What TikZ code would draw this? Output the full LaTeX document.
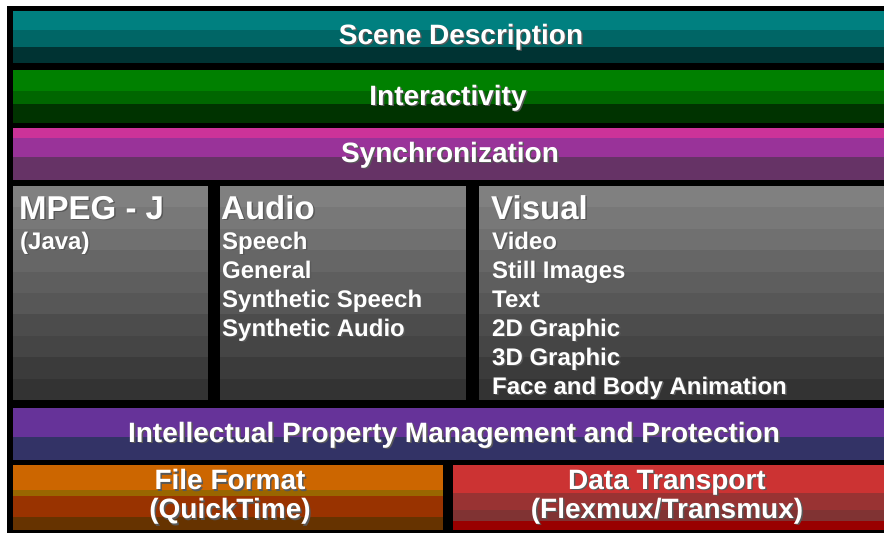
\documentclass[tikz,border=0pt]{standalone}
\usepackage{fontspec}
\setmainfont{Liberation Sans}

\definecolor{tealA}{HTML}{008080}
\definecolor{tealB}{HTML}{006666}
\definecolor{tealC}{HTML}{003333}
\definecolor{greenA}{HTML}{008000}
\definecolor{greenB}{HTML}{006600}
\definecolor{greenC}{HTML}{003300}
\definecolor{pinkA}{HTML}{CC3399}
\definecolor{pinkB}{HTML}{993399}
\definecolor{pinkC}{HTML}{663366}
\definecolor{violetA}{HTML}{663399}
\definecolor{violetB}{HTML}{333366}
\definecolor{orangeA}{HTML}{CC6600}
\definecolor{orangeB}{HTML}{996600}
\definecolor{orangeC}{HTML}{993300}
\definecolor{orangeD}{HTML}{663300}
\definecolor{redA}{HTML}{CC3333}
\definecolor{redB}{HTML}{993333}
\definecolor{redC}{HTML}{803333}
\definecolor{redD}{HTML}{990000}

% white text with a dark drop shadow
\newcommand{\shd}[1]{\leavevmode\rlap{\kern1.5pt\raisebox{-1.5pt}{\textcolor{black!65}{#1}}}#1}

\tikzset{
  bandtext/.style={text=white, inner sep=0pt, align=center,
    font=\fontsize{28}{29}\selectfont\bfseries},
  headtext/.style={text=white, inner sep=0pt, anchor=base west,
    font=\fontsize{33}{34}\selectfont\bfseries},
  itemtext/.style={text=white, inner sep=0pt, anchor=base west,
    font=\fontsize{24}{25}\selectfont\bfseries},
}

\begin{document}
\begin{tikzpicture}[x=1pt, y=-1pt]
    \useasboundingbox (0,0) rectangle (884,533);
    \fill[white] (0,0) rectangle (884,533);
    \fill[black] (7,6) rectangle (884,533);

    % scene description
    \fill[tealA] (13,11) rectangle (884,30);
    \fill[tealB] (13,30) rectangle (884,47);
    \fill[tealC] (13,47) rectangle (884,63);
    % interactivity
    \fill[greenA] (13,70) rectangle (884,91);
    \fill[greenB] (13,91) rectangle (884,104);
    \fill[greenC] (13,104) rectangle (884,123);
    % synchronization
    \fill[pinkA] (13,128) rectangle (884,138);
    \fill[pinkB] (13,138) rectangle (884,157);
    \fill[pinkC] (13,157) rectangle (884,180);

    % grey boxes
    \foreach \xa/\xb in {13/208, 220/466, 479/884}
        \foreach \i in {0,...,9} {
            \pgfmathtruncatemacro{\g}{50+3.4*\i}
            \fill[black!\g] (\xa,186+21.4*\i) rectangle (\xb,186+21.4*\i+21.5);
        }

    % ipmp
    \fill[violetA] (13,408) rectangle (884,437);
    \fill[violetB] (13,437) rectangle (884,460);
    % file format
    \fill[orangeA] (13,465) rectangle (443,490);
    \fill[orangeB] (13,490) rectangle (443,496);
    \fill[orangeC] (13,496) rectangle (443,517);
    \fill[orangeD] (13,517) rectangle (443,530);
    % data transport
    \fill[redA] (453,465) rectangle (884,493);
    \fill[redB] (453,493) rectangle (884,510);
    \fill[redC] (453,510) rectangle (884,521);
    \fill[redD] (453,521) rectangle (884,530);

    \node[bandtext] (scene) at (461,38) {\shd{Scene Description}};
    \node[bandtext] (inter) at (448,99) {\shd{Interactivity}};
    \node[bandtext] (sync) at (450,156) {\shd{Synchronization}};
    \node[bandtext] (ipmp) at (454,436) {\shd{Intellectual Property Management and Protection}};
    \node[bandtext] (file) at (230,498) {\shd{File Format}\\\shd{(QuickTime)}};
    \node[bandtext] (data) at (667,498) {\shd{Data Transport}\\\shd{(Flexmux/Transmux)}};

    \node[headtext] (mpegj) at (19,219) {\shd{MPEG - J}};
    \node[itemtext] (java) at (20,249) {\shd{(Java)}};

    \node[headtext] (audio) at (221,219) {\shd{Audio}};
    \foreach \t [count=\k] in {Speech, General, Synthetic Speech, Synthetic Audio}
        \node[itemtext] (audio\k) at (222,220+29*\k) {\shd{\t}};

    \node[headtext] (visual) at (491,219) {\shd{Visual}};
    \foreach \t [count=\k] in {Video, Still Images, Text, 2D Graphic, 3D Graphic, Face and Body Animation}
        \node[itemtext] (visual\k) at (492,220+29*\k) {\shd{\t}};
\end{tikzpicture}
\end{document}
